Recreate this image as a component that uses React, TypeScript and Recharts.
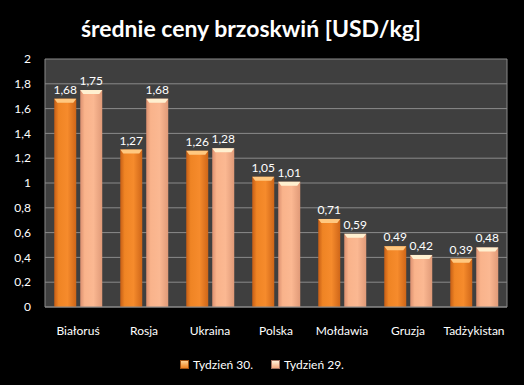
import React from 'react';
import { BarChart, Bar, XAxis, YAxis, CartesianGrid, LabelList, Legend } from 'recharts';

const countries = ['Białoruś', 'Rosja', 'Ukraina', 'Polska', 'Mołdawia', 'Gruzja', 'Tadżykistan'];
const week30 = [1.68, 1.27, 1.26, 1.05, 0.71, 0.49, 0.39];
const week29 = [1.75, 1.68, 1.28, 1.01, 0.59, 0.42, 0.48];
const yTicks = [0, 0.2, 0.4, 0.6, 0.8, 1, 1.2, 1.4, 1.6, 1.8, 2];

const data = countries.map((c, i) => ({ name: c, w30: week30[i], w29: week29[i] }));

const FONT = 'Lato, "Open Sans", sans-serif';
const comma = (v: any) => String(v).replace('.', ',');

const BevelBar = (props: any) => {
    const { x, y, width, height, grad, top } = props;
    if (!height || height <= 0) return null;
    const b = Math.min(4, height / 2);
    return (
        <g>
            <rect x={x} y={y} width={width} height={height} fill={`url(#${grad})`} />
            <polygon
                points={`${x},${y} ${x + width},${y} ${x + width - 3},${y + b} ${x + 3},${y + b}`}
                fill={top}
            />
        </g>
    );
};

const LegendContent = () => (
    <div style={{ display: 'flex', justifyContent: 'center', gap: 18, fontFamily: FONT, fontSize: 12, color: '#fff' }}>
        <span style={{ display: 'flex', alignItems: 'center' }}>
            <span style={{ width: 7, height: 7, background: 'linear-gradient(#ffd090, #f0821e)', marginRight: 4, border: '1px solid #a05010' }} />
            Tydzień 30.
        </span>
        <span style={{ display: 'flex', alignItems: 'center' }}>
            <span style={{ width: 7, height: 7, background: 'linear-gradient(#fff0d8, #f5aa80)', marginRight: 4, border: '1px solid #a07060' }} />
            Tydzień 29.
        </span>
    </div>
);

export default function App() {
    return (
        <div style={{ position: 'fixed', left: 0, top: 0, width: 524, height: 385, background: '#000' }}>
            <div style={{
                position: 'absolute', top: 14, left: 0, width: 502, textAlign: 'center',
                color: '#fff', fontFamily: FONT, fontWeight: 'bold', fontSize: 23
            }}>
                średnie ceny brzoskwiń [USD/kg]
            </div>
            <BarChart width={524} height={385} data={data}
                margin={{ top: 59, right: 17, bottom: 33, left: 0 }}
                barCategoryGap="14%" barGap={4}>
                <defs>
                    <linearGradient id="g30" x1="0" y1="0" x2="1" y2="0">
                        <stop offset="0" stopColor="#c65e16" />
                        <stop offset="0.2" stopColor="#ef8424" />
                        <stop offset="0.6" stopColor="#f68b2c" />
                        <stop offset="1" stopColor="#cf6618" />
                    </linearGradient>
                    <linearGradient id="g29" x1="0" y1="0" x2="1" y2="0">
                        <stop offset="0" stopColor="#dc9070" />
                        <stop offset="0.2" stopColor="#f9b38b" />
                        <stop offset="0.6" stopColor="#fbb892" />
                        <stop offset="1" stopColor="#e09a78" />
                    </linearGradient>
                </defs>
                <CartesianGrid fill="#3f3f3f" stroke="#8a8a8a" vertical={true} verticalPoints={[45, 507]} />
                <XAxis dataKey="name" axisLine={{ stroke: '#8a8a8a' }} tickLine={false} tickSize={0} tickMargin={19}
                    tick={{ fill: '#fff', fontSize: 12, fontFamily: FONT }} interval={0} />
                <YAxis domain={[0, 2]} ticks={yTicks} width={45} axisLine={false} tickLine={false} tickSize={0} tickMargin={14}
                    tickFormatter={comma} tick={{ fill: '#fff', fontSize: 12, fontFamily: FONT }} />
                <Legend verticalAlign="bottom" content={<LegendContent />}
                    wrapperStyle={{ position: 'absolute', top: 357, left: 0, width: 524 }} />
                <Bar dataKey="w30" name="Tydzień 30." fill="#f08020" isAnimationActive={false}
                    shape={(p: any) => <BevelBar {...p} grad="g30" top="#ffc880" />}>
                    <LabelList dataKey="w30" position="top" offset={5} formatter={comma}
                        style={{ fill: '#fff', fontSize: 12, fontFamily: FONT }} />
                </Bar>
                <Bar dataKey="w29" name="Tydzień 29." fill="#f9b58a" isAnimationActive={false}
                    shape={(p: any) => <BevelBar {...p} grad="g29" top="#fff0d0" />}>
                    <LabelList dataKey="w29" position="top" offset={5} formatter={comma}
                        style={{ fill: '#fff', fontSize: 12, fontFamily: FONT }} />
                </Bar>
            </BarChart>
        </div>
    );
}
